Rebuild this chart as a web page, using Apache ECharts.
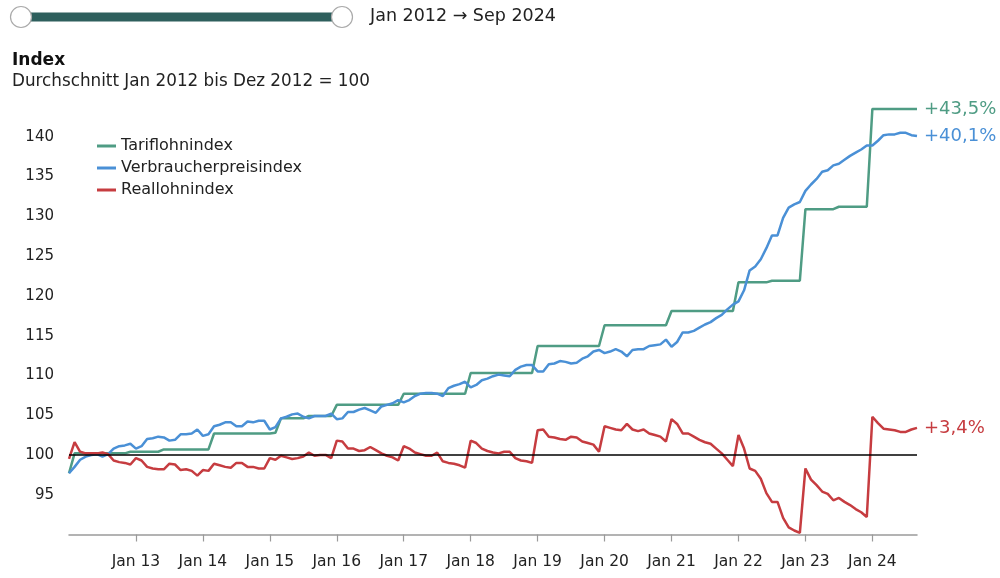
<!DOCTYPE html>
<html>
<head>
<meta charset="utf-8">
<script src="https://cdn.jsdelivr.net/npm/echarts@6/dist/echarts.min.js"></script>
<style>
html,body{margin:0;padding:0;background:#fff;}
#chart{width:1000px;height:578px;}
</style>
</head>
<body>
<div id="chart"></div>
<script>
// ---- Data (monthly, Jan 2012 .. Sep 2024) ----
const monthNames = ['Jan','Feb','Mär','Apr','Mai','Jun','Jul','Aug','Sep','Okt','Nov','Dez'];
const startYear = 2012;
const monthCount = 153;

const tariflohnindex = [
  97.7,100.2,100.2,100.2,100.2,100.2,100.2,100.2,100.2,100.2,100.2,100.4,
  100.4,100.4,100.4,100.4,100.4,100.7,100.7,100.7,100.7,100.7,100.7,100.7,
  100.7,100.7,102.7,102.7,102.7,102.7,102.7,102.7,102.7,102.7,102.7,102.7,
  102.7,102.8,104.6,104.6,104.6,104.6,104.6,104.9,104.9,104.9,104.9,104.9,
  106.3,106.3,106.3,106.3,106.3,106.3,106.3,106.3,106.3,106.3,106.3,106.3,
  107.7,107.7,107.7,107.7,107.7,107.7,107.7,107.7,107.7,107.7,107.7,107.7,
  110.3,110.3,110.3,110.3,110.3,110.3,110.3,110.3,110.3,110.3,110.3,110.3,
  113.7,113.7,113.7,113.7,113.7,113.7,113.7,113.7,113.7,113.7,113.7,113.7,
  116.3,116.3,116.3,116.3,116.3,116.3,116.3,116.3,116.3,116.3,116.3,116.3,
  118.1,118.1,118.1,118.1,118.1,118.1,118.1,118.1,118.1,118.1,118.1,118.1,
  121.7,121.7,121.7,121.7,121.7,121.7,121.9,121.9,121.9,121.9,121.9,121.9,
  130.9,130.9,130.9,130.9,130.9,130.9,131.2,131.2,131.2,131.2,131.2,131.2,
  143.5,143.5,143.5,143.5,143.5,143.5,143.5,143.5,143.5
];

const verbraucherpreisindex = [
  97.7,98.5,99.4,99.8,100.0,100.1,99.8,100.1,100.8,101.1,101.2,101.4,
  100.8,101.1,102.0,102.1,102.3,102.2,101.8,101.9,102.6,102.6,102.7,103.2,
  102.4,102.6,103.6,103.8,104.1,104.1,103.6,103.6,104.2,104.1,104.3,104.3,
  103.2,103.5,104.6,104.8,105.1,105.2,104.8,104.6,104.9,104.9,104.9,105.2,
  104.5,104.6,105.4,105.4,105.7,105.9,105.6,105.3,106.1,106.3,106.5,106.9,
  106.6,106.9,107.4,107.7,107.8,107.8,107.7,107.4,108.4,108.7,108.9,109.2,
  108.5,108.8,109.4,109.6,109.9,110.1,110.0,109.9,110.7,111.1,111.3,111.3,
  110.5,110.5,111.4,111.5,111.8,111.7,111.5,111.6,112.1,112.4,113.0,113.2,
  112.8,113.0,113.3,113.0,112.4,113.2,113.3,113.3,113.7,113.8,113.9,114.5,
  113.6,114.2,115.4,115.4,115.6,116.0,116.4,116.7,117.2,117.6,118.3,118.9,
  119.3,120.7,123.2,123.7,124.6,126.0,127.6,127.6,129.8,131.1,131.5,131.8,
  133.2,134.0,134.7,135.6,135.8,136.4,136.6,137.1,137.6,138.0,138.4,138.9,
  138.9,139.5,140.2,140.3,140.3,140.5,140.5,140.2,140.1
];

const reallohnindex = [
  99.5,101.6,100.4,100.2,100.2,100.2,100.3,100.1,99.3,99.1,99.0,98.8,
  99.6,99.3,98.5,98.3,98.2,98.2,98.9,98.8,98.1,98.2,98.0,97.4,
  98.1,98.0,98.9,98.7,98.5,98.4,99.0,99.0,98.5,98.5,98.3,98.3,
  99.6,99.4,99.9,99.7,99.5,99.6,99.8,100.3,99.9,100.0,100.0,99.6,
  101.8,101.7,100.8,100.8,100.5,100.6,101.0,100.6,100.2,99.9,99.7,99.3,
  101.1,100.8,100.3,100.1,99.9,99.9,100.3,99.2,99.0,98.9,98.7,98.4,
  101.8,101.5,100.8,100.5,100.3,100.2,100.4,100.4,99.6,99.3,99.2,99.0,
  103.1,103.2,102.3,102.2,102.0,101.9,102.3,102.2,101.7,101.5,101.3,100.4,
  103.6,103.4,103.2,103.1,103.9,103.2,103.0,103.2,102.7,102.5,102.3,101.7,
  104.5,103.9,102.7,102.7,102.3,101.9,101.6,101.4,100.8,100.2,99.4,98.6,
  102.5,100.8,98.3,98.0,97.0,95.2,94.1,94.1,92.1,90.9,90.5,90.2,
  98.3,96.9,96.2,95.4,95.1,94.3,94.6,94.1,93.7,93.2,92.8,92.2,
  104.8,104.0,103.3,103.2,103.1,102.9,102.9,103.2,103.4
];

const seriesNames = ['Tariflohnindex','Verbraucherpreisindex','Reallohnindex'];
const seriesColors = ['#4f9c84','#4a90d6','#c63c40'];
const yTicksShown = [95,100,105,110,115,120,125,130,135,140];
const rangeLabel = 'Jan 2012 \u2192 Sep 2024';
const titleText = 'Index';
const subtitleText = 'Durchschnitt Jan 2012 bis Dez 2012 = 100';

// ---- Categories ----
const categories = [];
for (let i = 0; i < monthCount; i++) {
  const y = startYear + Math.floor(i / 12);
  categories.push(monthNames[i % 12] + ' ' + String(y).slice(2));
}

const FONT = '"DejaVu Sans", sans-serif';
const fmtEnd = v => '+' + (v - 100).toFixed(1).replace('.', ',') + '%';
const yearTick = (idx) => idx % 12 === 0 && idx > 0;

const chart = echarts.init(document.getElementById('chart'), null, {renderer: 'canvas'});

function lineSeries(name, data, color, withMark) {
  const s = {
    name: name,
    type: 'line',
    data: data,
    symbol: 'none',
    showSymbol: false,
    lineStyle: {color: color, width: 2.5},
    itemStyle: {color: color},
    emphasis: {disabled: true},
    endLabel: {
      show: true,
      formatter: p => fmtEnd(p.value),
      color: color,
      fontSize: 18,
      fontFamily: FONT,
      distance: 7
    },
    animation: false
  };
  if (withMark) {
    s.markLine = {
      silent: true,
      symbol: 'none',
      label: {show: false},
      lineStyle: {color: '#000', width: 1.5, type: 'solid'},
      data: [{yAxis: 100}],
      animation: false
    };
  }
  return s;
}

const option = {
  backgroundColor: '#fff',
  animation: false,
  textStyle: {fontFamily: FONT},
  title: {
    text: titleText,
    subtext: subtitleText,
    left: 12,
    top: 52,
    padding: 0,
    itemGap: 4,
    textStyle: {fontFamily: FONT, fontSize: 17, fontWeight: 'bold', color: '#111'},
    subtextStyle: {fontFamily: FONT, fontSize: 16.8, color: '#222'}
  },
  legend: {
    orient: 'vertical',
    left: 97,
    top: 138,
    padding: 0,
    icon: 'rect',
    itemWidth: 19,
    itemHeight: 3,
    itemGap: 6,
    textStyle: {fontFamily: FONT, fontSize: 16, color: '#222', lineHeight: 16},
    data: seriesNames
  },
  grid: {left: 69, right: 83, top: 97, bottom: 43.5, containLabel: false},
  xAxis: {
    type: 'category',
    data: categories,
    boundaryGap: false,
    axisLine: {lineStyle: {color: '#9a9a9a', width: 1.5}},
    axisTick: {interval: yearTick, length: 7, lineStyle: {color: '#9a9a9a', width: 1.2}},
    axisLabel: {interval: yearTick, margin: 19, fontSize: 15.5, color: '#222', fontFamily: FONT},
    splitLine: {show: false}
  },
  yAxis: {
    type: 'value',
    min: 90,
    max: 145,
    interval: 5,
    axisLine: {show: false},
    axisTick: {show: false},
    splitLine: {show: false},
    axisLabel: {
      margin: 15,
      fontSize: 15,
      color: '#222',
      fontFamily: FONT,
      formatter: v => yTicksShown.indexOf(v) >= 0 ? String(v) : ''
    }
  },
  graphic: [
    {type: 'rect', left: 21, top: 12.5, shape: {width: 321, height: 9}, style: {fill: '#2e5f5d'}, z: 10},
    {type: 'circle', shape: {cx: 21, cy: 17, r: 10.5}, style: {fill: '#fff', stroke: '#aaaaaa', lineWidth: 1.2}, z: 11},
    {type: 'circle', shape: {cx: 342, cy: 17, r: 10.5}, style: {fill: '#fff', stroke: '#aaaaaa', lineWidth: 1.2}, z: 11},
    {type: 'text', left: 370, top: 7, style: {text: rangeLabel, fontSize: 17.5, fontFamily: FONT, fill: '#222'}, z: 11}
  ],
  series: [
    lineSeries(seriesNames[0], tariflohnindex, seriesColors[0], false),
    lineSeries(seriesNames[1], verbraucherpreisindex, seriesColors[1], false),
    lineSeries(seriesNames[2], reallohnindex, seriesColors[2], true)
  ]
};

chart.setOption(option);
</script>
</body>
</html>
